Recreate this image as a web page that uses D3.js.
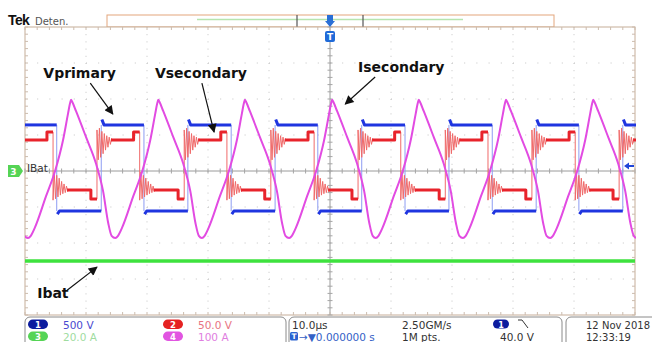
<!DOCTYPE html>
<html>
<head>
<meta charset="utf-8">
<script src="https://cdn.jsdelivr.net/npm/d3@7"></script>
<style>
  html, body { margin: 0; padding: 0; background: #fff; }
  svg { display: block; }
</style>
</head>
<body>
<svg id="scope" width="652" height="342"></svg>
<script>
// time in µs (10 µs/div, trigger at 0), amplitudes in screen divisions

// channel 1 - Vprimary (square wave)
const vpriRise = [-37.5, -23.3, -9.0, 5.2, 19.5, 33.8, 48.0];
const vpriFall = [-44.8, -30.5, -16.2, -2.0, 12.3, 26.6, 40.8];
const vpriLevels = [1.28, -1.11];      // high, low
const vpriHook = [0.15, -0.09];       // little overshoot after each edge

// channel 2 - Vsecondary (square wave with ringing)
const vsecRise = [-52.5, -38.2, -23.9, -9.7, 4.6, 18.9, 33.1, 47.4];
const vsecFall = [-45.4, -31.2, -16.9, -2.6, 11.6, 25.9, 40.2];
const vsecLevels = [0.86, -0.53];
const vsecStep = [1.08, -0.78];        // level just before next edge
const vsecStepLen = 1.0;
const vsecRingHigh = [
  [0, 1.14], [0.2, 0.31], [0.4, 1.19], [0.6, 0.38], [0.8, 1.10], [1.0, 0.48], [1.2, 1.04],
  [1.4, 0.58], [1.6, 0.98], [1.8, 0.66], [2.0, 0.94], [2.2, 0.74], [2.4, 0.90], [2.6, 0.86]
];
const vsecRingLow = [
  [0, -0.81], [0.2, -0.03], [0.4, -0.77], [0.6, -0.12], [0.8, -0.72], [1.0, -0.20], [1.2, -0.67],
  [1.4, -0.29], [1.6, -0.63], [1.8, -0.36], [2.0, -0.60], [2.2, -0.42], [2.4, -0.57], [2.6, -0.53]
];

// channel 4 - Isecondary (one period, from trough)
const isecTroughs = [-63.8, -49.5, -35.2, -21.0, -6.7, 7.5, 21.8, 36.1, 50.3];
const isecShape = [
  [0, -1.86], [0.45, -1.80], [1.1, -1.58], [2.95, -0.70], [4.43, 0], [5.74, 0.86],
  [6.56, 1.60], [6.88, 1.88], [7.05, 1.98], [7.22, 1.93], [7.87, 1.66], [9.51, 0.94],
  [11.15, 0.20], [12.30, -0.56], [13.15, -1.45], [13.70, -1.80]
];

// channel 3 - Ibat
const ibatLevel = -2.5;

const callouts = [
  { text: 'Vprimary',   at: [-47.0, 2.58], from: [-39.3, 2.44], to: [-35.6, 1.58] },
  { text: 'Vsecondary', at: [-28.7, 2.58], from: [-21.0, 2.44], to: [-19.0, 1.08] },
  { text: 'Isecondary', at: [4.6, 2.75],   from: [7.4, 2.61],   to: [2.5, 1.86] },
  { text: 'Ibat',       at: [-48.0, -3.53], from: [-43.1, -3.31], to: [-38.2, -2.67] }
];

const chanLabels = ['1', '2', '3', '4'];
const chanScales = ['500 V', '50.0 V', '20.0 A', '100 A'];
const chanColors = ['#0c1c9e', '#e52222', '#55d455', '#e155e1'];
const chanText = ['#4a4ad0', '#e87482', '#9fdc9f', '#e07ee0'];

const tMin = -50, tMax = 50;

const svg = d3.select('#scope');
const x = d3.scaleLinear().domain([tMin, tMax]).range([25, 635]);
const y = d3.scaleLinear().domain([-4, 4]).range([315, 27]);

const line = d3.line().x(d => x(d[0])).y(d => y(d[1]));

// header
svg.append('text').attr('x', 8).attr('y', 25)
  .style('font', 'bold 14px "Liberation Sans"').style('letter-spacing', '-0.6px')
  .attr('fill', '#111').text('Tek');
svg.append('text').attr('x', 35).attr('y', 25)
  .style('font', '10px "DejaVu Sans"').attr('fill', '#555').text('Deten.');

// record bar
svg.append('rect').attr('x', 107).attr('y', 15).attr('width', 447).attr('height', 12)
  .attr('fill', '#fff').attr('stroke', '#e3a67c').attr('stroke-width', 1);
svg.append('line').attr('x1', 197).attr('x2', 463).attr('y1', 19.5).attr('y2', 19.5)
  .attr('stroke', '#b6e4ae').attr('stroke-width', 1.5);
[297, 363].forEach(bx => {
  svg.append('line').attr('x1', bx).attr('x2', bx).attr('y1', 15).attr('y2', 27)
    .attr('stroke', '#555').attr('stroke-width', 1.2);
});

// plot frame
const plot = svg.append('g');
plot.append('rect').attr('x', 25).attr('y', 27).attr('width', 610).attr('height', 288)
  .attr('fill', '#fff').attr('stroke', '#c6ad98').attr('stroke-width', 1);

// grid (dotted)
x.ticks(10).filter(t => t > tMin && t < tMax && t !== 0).forEach(t => {
  plot.append('line').attr('x1', x(t)).attr('x2', x(t)).attr('y1', 27).attr('y2', 315)
    .attr('stroke', '#c4c4c4').attr('stroke-dasharray', '1,6.2');
});
y.ticks(8).filter(v => v > -4 && v < 4 && v !== 0).forEach(v => {
  plot.append('line').attr('x1', 25).attr('x2', 635).attr('y1', y(v)).attr('y2', y(v))
    .attr('stroke', '#c4c4c4').attr('stroke-dasharray', '1,11.2');
});

// centre cross with minor ticks
plot.append('line').attr('x1', 25).attr('x2', 635).attr('y1', y(0)).attr('y2', y(0))
  .attr('stroke', '#9a9a9a');
plot.append('line').attr('x1', x(0)).attr('x2', x(0)).attr('y1', 27).attr('y2', 315)
  .attr('stroke', '#9a9a9a');
d3.range(tMin, tMax + 0.01, 2).forEach(t => {
  plot.append('line').attr('x1', x(t)).attr('x2', x(t)).attr('y1', y(0) - 2.5).attr('y2', y(0) + 2.5)
    .attr('stroke', '#a5a5a5');
  plot.append('line').attr('x1', x(t)).attr('x2', x(t)).attr('y1', 27).attr('y2', 30)
    .attr('stroke', '#ccbcae');
  plot.append('line').attr('x1', x(t)).attr('x2', x(t)).attr('y1', 312).attr('y2', 315)
    .attr('stroke', '#ccbcae');
});
d3.range(-4, 4.01, 0.2).forEach(v => {
  plot.append('line').attr('x1', x(0) - 2.5).attr('x2', x(0) + 2.5).attr('y1', y(v)).attr('y2', y(v))
    .attr('stroke', '#a5a5a5');
  plot.append('line').attr('x1', 25).attr('x2', 28).attr('y1', y(v)).attr('y2', y(v))
    .attr('stroke', '#ccbcae');
  plot.append('line').attr('x1', 632).attr('x2', 635).attr('y1', y(v)).attr('y2', y(v))
    .attr('stroke', '#ccbcae');
});

svg.append('clipPath').attr('id', 'clip').append('rect')
  .attr('x', 25).attr('y', 27).attr('width', 611).attr('height', 288);
const traces = svg.append('g').attr('clip-path', 'url(#clip)');

// Ibat
traces.append('path').datum([[tMin, ibatLevel], [tMax, ibatLevel]])
  .attr('d', line).attr('fill', 'none').attr('stroke', '#3ee23e').attr('stroke-width', 3.5);

// edges sorted in time
function edgeList(rise, fall) {
  return rise.map(t => ({ t, up: true }))
    .concat(fall.map(t => ({ t, up: false })))
    .sort((a, b) => a.t - b.t);
}

// Vprimary
const bEdges = edgeList(vpriRise, vpriFall);
bEdges.forEach(e => {
  traces.append('line').attr('x1', x(e.t)).attr('x2', x(e.t))
    .attr('y1', y(vpriLevels[0])).attr('y2', y(vpriLevels[1]))
    .attr('stroke', '#8d9cf2').attr('stroke-width', 1);
});
const bSegs = [];
bSegs.push([[tMin, bEdges[0].up ? vpriLevels[1] : vpriLevels[0]], [bEdges[0].t, bEdges[0].up ? vpriLevels[1] : vpriLevels[0]]]);
bEdges.forEach((e, i) => {
  const k = e.up ? 0 : 1;
  const t1 = i + 1 < bEdges.length ? bEdges[i + 1].t : tMax + 1;
  bSegs.push([[e.t + 0.1, vpriLevels[k] + vpriHook[k]], [e.t + 0.45, vpriLevels[k]], [t1, vpriLevels[k]]]);
});
traces.selectAll('path.vpri').data(bSegs).join('path').attr('class', 'vpri')
  .attr('d', line).attr('fill', 'none').attr('stroke', '#1f35e0')
  .attr('stroke-width', 3).attr('stroke-linejoin', 'round');

// Vsecondary
const rEdges = edgeList(vsecRise, vsecFall);
const rThin = [];
const rThick = [];
rEdges.forEach((e, i) => {
  const k = e.up ? 0 : 1;
  const ring = e.up ? vsecRingHigh : vsecRingLow;
  const t1 = i + 1 < rEdges.length ? rEdges[i + 1].t : tMax + 5;
  ring.forEach(([dt, v]) => rThin.push([e.t + dt, v]));
  const seg = [[e.t + ring[ring.length - 1][0] - 0.3, vsecLevels[k]],
    [t1 - vsecStepLen, vsecLevels[k]], [t1 - vsecStepLen, vsecStep[k]], [t1, vsecStep[k]]];
  seg.forEach(p => rThin.push(p));
  rThick.push(seg);
});
traces.append('path').datum(rThin).attr('d', line).attr('fill', 'none')
  .attr('stroke', '#f06a6a').attr('stroke-width', 1);
traces.selectAll('path.vsec').data(rThick).join('path').attr('class', 'vsec')
  .attr('d', line).attr('fill', 'none').attr('stroke', '#e8232b')
  .attr('stroke-width', 3).attr('stroke-linejoin', 'round');

// Isecondary
const pPts = [];
isecTroughs.forEach(t0 => isecShape.forEach(([dt, v]) => pPts.push([t0 + dt, v])));
traces.append('path').datum(pPts)
  .attr('d', line.curve(d3.curveMonotoneX)).attr('fill', 'none')
  .attr('stroke', '#e24be2').attr('stroke-width', 2);
line.curve(d3.curveLinear);

// trigger markers
svg.append('path').attr('d', 'M327,15 L333,15 L333,21 L335,21 L330,27 L325,21 L327,21 Z')
  .attr('fill', '#2a6fd6');
svg.append('rect').attr('x', 325).attr('y', 31).attr('width', 10).attr('height', 11).attr('rx', 2)
  .attr('fill', '#1f6ad8');
svg.append('text').attr('x', 330).attr('y', 40).attr('text-anchor', 'middle')
  .style('font', 'bold 9px "DejaVu Sans"').attr('fill', '#fff').text('T');
svg.append('path').attr('d', 'M624,166 L629,162.5 L629,165 L634,165 L634,167 L629,167 L629,169.5 Z')
  .attr('fill', '#1f45d8');

// channel 3 ground marker
svg.append('path').attr('d', 'M8,165 L19,165 L23,171 L19,177 L8,177 Z').attr('fill', '#55d455');
svg.append('text').attr('x', 13.5).attr('y', 175).attr('text-anchor', 'middle')
  .style('font', 'bold 9px "DejaVu Sans"').attr('fill', '#fff').text('3');
svg.append('text').attr('x', 27).attr('y', 172)
  .style('font', '10.5px "DejaVu Sans"').attr('fill', '#333').text('IBat');

// callouts
svg.append('defs').append('marker').attr('id', 'arr')
  .attr('viewBox', '0 0 10 10').attr('refX', 9).attr('refY', 5)
  .attr('markerWidth', 11).attr('markerHeight', 9).attr('markerUnits', 'userSpaceOnUse')
  .attr('orient', 'auto')
  .append('path').attr('d', 'M0,0 L10,5 L0,10 Z').attr('fill', '#111');
callouts.forEach(c => {
  svg.append('text').attr('x', x(c.at[0])).attr('y', y(c.at[1]))
    .style('font', 'bold 14px "DejaVu Sans"').attr('fill', '#111').text(c.text);
  svg.append('line').attr('x1', x(c.from[0])).attr('y1', y(c.from[1]))
    .attr('x2', x(c.to[0])).attr('y2', y(c.to[1]))
    .attr('stroke', '#111').attr('stroke-width', 1.2).attr('marker-end', 'url(#arr)');
});

// status bar
const bar = svg.append('g');
bar.append('rect').attr('x', 25).attr('y', 317).attr('width', 261).attr('height', 32).attr('rx', 5)
  .attr('fill', '#fff').attr('stroke', '#8a8a8a');
bar.append('rect').attr('x', 289).attr('y', 317).attr('width', 273).attr('height', 32).attr('rx', 5)
  .attr('fill', '#fff').attr('stroke', '#8a8a8a');
bar.append('rect').attr('x', 566).attr('y', 317).attr('width', 100).attr('height', 32).attr('rx', 5)
  .attr('fill', '#fff').attr('stroke', '#8a8a8a');

const statusFont = '10.5px "DejaVu Sans"';
chanLabels.forEach((lab, i) => {
  const px = i % 2 === 0 ? 28 : 163;
  const py = i < 2 ? 319.5 : 331.5;
  bar.append('rect').attr('x', px).attr('y', py).attr('width', 20).attr('height', 9.5).attr('rx', 4.75)
    .attr('fill', chanColors[i]);
  bar.append('text').attr('x', px + 10).attr('y', py + 8.3).attr('text-anchor', 'middle')
    .style('font', 'bold 8.5px "DejaVu Sans"').attr('fill', '#fff').text(lab);
  bar.append('text').attr('x', px + 35).attr('y', py + 9)
    .style('font', statusFont).attr('fill', chanText[i]).text(chanScales[i]);
});

bar.append('text').attr('x', 292).attr('y', 328.5).style('font', statusFont).attr('fill', '#333').text('10.0µs');
bar.append('rect').attr('x', 290).attr('y', 332).attr('width', 8).attr('height', 8.5).attr('rx', 1.5).attr('fill', '#2a62d0');
bar.append('text').attr('x', 294).attr('y', 339.3).attr('text-anchor', 'middle')
  .style('font', 'bold 7.5px "DejaVu Sans"').attr('fill', '#fff').text('T');
bar.append('text').attr('x', 299).attr('y', 340.5).style('font', statusFont).attr('fill', '#3461c6')
  .text('→▼0.000000 s');
bar.append('text').attr('x', 402).attr('y', 328.5).style('font', statusFont).attr('fill', '#333').text('2.50GM/s');
bar.append('text').attr('x', 402).attr('y', 340.5).style('font', statusFont).attr('fill', '#333').text('1M pts.');
bar.append('rect').attr('x', 493).attr('y', 319.5).attr('width', 16).attr('height', 9).attr('rx', 4.5).attr('fill', chanColors[0]);
bar.append('text').attr('x', 501).attr('y', 327.5).attr('text-anchor', 'middle')
  .style('font', 'bold 8px "DejaVu Sans"').attr('fill', '#fff').text('1');
bar.append('path').attr('d', 'M518,320 L522,320 L528,328').attr('fill', 'none').attr('stroke', '#333').attr('stroke-width', 1);
bar.append('text').attr('x', 500).attr('y', 340.5).style('font', statusFont).attr('fill', '#333').text('40.0 V');
bar.append('text').attr('x', 586).attr('y', 328.5).style('font', '10px "DejaVu Sans"').attr('fill', '#333').text('12 Nov 2018');
bar.append('text').attr('x', 586).attr('y', 340.5).style('font', '10px "DejaVu Sans"').attr('fill', '#333').text('12:33:19');
</script>
</body>
</html>
